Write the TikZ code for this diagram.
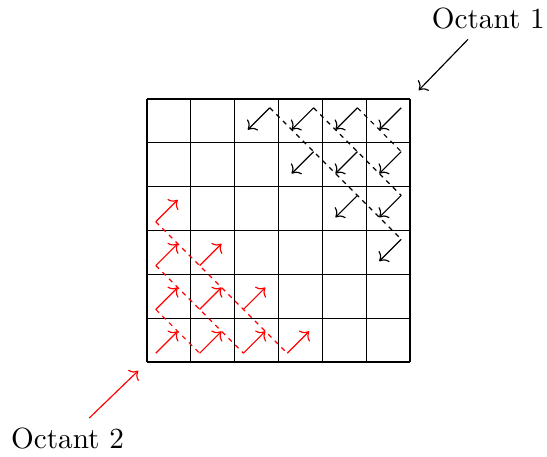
\documentclass[tikz,border=0pt]{standalone}
\usetikzlibrary{arrows.meta}

\begin{document}
\begin{tikzpicture}[
      x=15pt, y=15pt, % Kantenlaenge einer Zelle
      cellline/.style={black, line width=0.4pt}, % Style for the raster
      octone/.style={black, ->}, % Style for octant 1 steps
      octtwo/.style={red, ->}, % Style for octant 2 steps
      scanline/.style={dash pattern=on 1.6pt off 1.6pt}, % Style for scan lines
    ]
    \useasboundingbox (-3.354,-2.145) rectangle (9.126,8.259);

    \def\lo{0.2}
    \def\hi{0.8}

    % Raster
    \draw[cellline] (0,0) grid[step=15pt] (6,6);

    % Octant 1 (oben rechts)
    \foreach \c in {2,...,5} {
      \foreach \r in {2,...,5} {
        \pgfmathtruncatemacro{\s}{\c+\r}
        \ifnum\s>6
          \draw[octone] (\c+\hi,\r+\hi) -- (\c+0.3,\r+0.3);
        \fi
      }
    }
    % Scanlinien Octant 1
    \foreach \c in {2,3,4}
      \draw[scanline] (\c+\hi,5+\hi) -- (5+\hi,\c+\hi);

    % Octant 2 (unten links)
    \foreach \c in {0,...,3} {
      \foreach \r in {0,...,3} {
        \pgfmathtruncatemacro{\s}{\c+\r}
        \ifnum\s<4
          \draw[octtwo] (\c+\lo,\r+\lo) -- (\c+0.7,\r+0.7);
        \fi
      }
    }
    % Scanlinien Octant 2
    \foreach \k in {1,2,3}
      \draw[scanline, red] (\lo,\k+\lo) -- (\k+\lo,\lo);

    % Beschriftung
    \node (oct1) at (7.787,7.84) {Octant 1};
    \coordinate (tip1) at (6.2,6.2);
    \draw[->] (oct1) -- (tip1);

    \node (oct2) at (-1.814,-1.757) {Octant 2};
    \coordinate (tip2) at (-0.2,-0.2);
    \draw[->, red] (oct2) -- (tip2);

  \end{tikzpicture}
\end{document}
